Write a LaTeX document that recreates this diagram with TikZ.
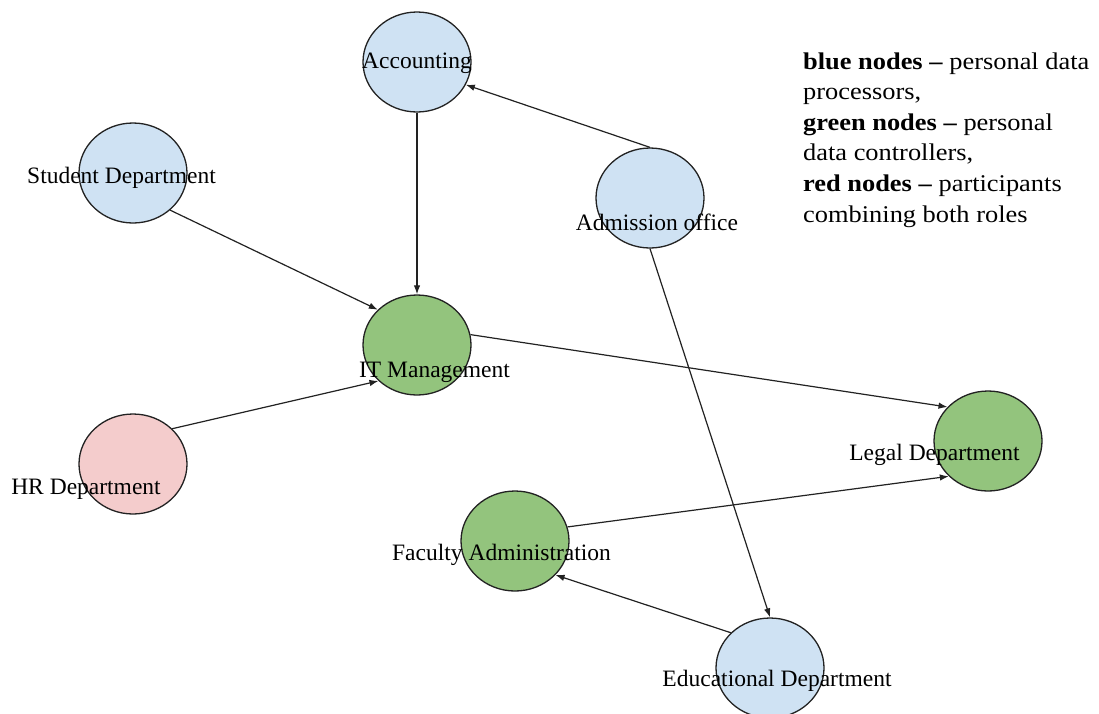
\documentclass[tikz,border=0pt]{standalone}
\usepackage{fontspec}
\setmainfont{Liberation Serif}
\newfontfamily\legfont[FakeStretch=1.1]{Liberation Serif}
\usetikzlibrary{shapes.geometric,arrows.meta}
\definecolor{nblue}{HTML}{CFE2F3}
\definecolor{ngreen}{HTML}{93C47D}
\definecolor{nred}{HTML}{F4CCCC}
\definecolor{nline}{HTML}{222222}
\begin{document}
\begin{tikzpicture}[x=1pt,y=-1pt,
  vertex/.style={ellipse, draw=nline, line width=1.3pt, minimum width=108pt, minimum height=100pt, inner sep=0pt},
  procnode/.style={vertex, fill=nblue},
  ctrlnode/.style={vertex, fill=ngreen},
  bothnode/.style={vertex, fill=nred},
  lbl/.style={anchor=base, font=\fontsize{23.5}{28}\selectfont, text=black, inner sep=0pt},
  leg/.style={anchor=base west, font=\legfont\fontsize{24}{30}\selectfont, text=black, inner sep=0pt},
  conn/.style={draw=nline, line width=1.2pt, -{Latex[length=9pt,width=6.5pt]}}
]
\useasboundingbox[fill=white] (0,0) rectangle (1099,713);

% nodes
\node[procnode] (acc) at (417,62) {};
\node[procnode] (stu) at (133,173) {};
\node[procnode] (adm) at (650,198) {};
\node[ctrlnode] (it)  at (417,345) {};
\node[bothnode] (hr)  at (133,464) {};
\node[ctrlnode] (legal) at (988,441) {};
\node[ctrlnode] (fac) at (515,541) {};
\node[procnode] (edu) at (770,668) {};

% connectors
\draw[conn] (adm.north) -- (acc.-25);
\draw[conn] (acc.south) -- (it.north);
\draw[conn] (stu.-45) -- (it.138);
\draw[conn] (hr.42) -- (it.-137);
\draw[conn] (it.11) -- (legal.140);
\draw[conn] (fac.15) -- (legal.-138);
\draw[conn] (edu.138) -- (fac.-40);
\draw[conn] (adm.south) -- (edu.north);

% labels
\node[lbl] (accL) at (417,68.5) {Accounting};
\node[lbl] (stuL) at (121.5,183) {Student Department};
\node[lbl] (admL) at (657,230) {Admission office};
\node[lbl] (itL) at (434.5,377) {IT Management};
\node[lbl] (hrL) at (86,494) {HR Department};
\node[lbl] (legalL) at (934.5,460) {Legal Department};
\node[lbl] (facL) at (501.5,560) {Faculty Administration};
\node[lbl] (eduL) at (777,686) {Educational Department};

% legend
\node[leg] (leg1) at (803,69) {\textbf{blue nodes –} personal data};
\node[leg] (leg2) at (803,99.6) {processors,};
\node[leg] (leg3) at (803,130.2) {\textbf{green nodes –} personal};
\node[leg] (leg4) at (803,160.8) {data controllers,};
\node[leg] (leg5) at (803,191.4) {\textbf{red nodes –} participants};
\node[leg] (leg6) at (803,222) {combining both roles};
\end{tikzpicture}
\end{document}
